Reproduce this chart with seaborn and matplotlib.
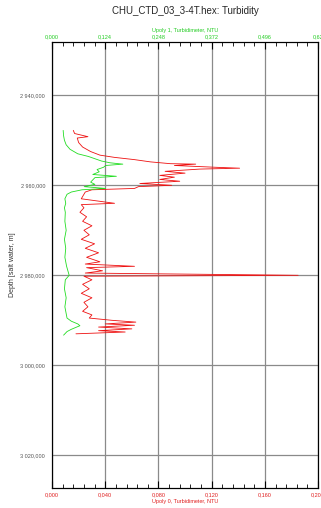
import numpy as np
import pandas as pd
import seaborn as sns
import matplotlib
matplotlib.use("Agg")
import matplotlib.pyplot as plt
from matplotlib.ticker import FixedLocator, MultipleLocator, FuncFormatter

# Upoly 0 (red, bottom axis)
red_depth = [2947.8, 2948.5, 2949.2, 2949.5, 2950.5, 2951.5, 2952.5, 2953.3, 2953.8,
             2954.3, 2954.8, 2955.2, 2955.3, 2955.6, 2956.0, 2956.2, 2956.4, 2956.9,
             2957.3, 2957.8, 2958.2, 2958.7, 2959.1, 2959.6, 2960.0, 2960.3, 2960.7,
             2961.0, 2961.5, 2962.0, 2963.0, 2964.0, 2964.3, 2965.0, 2966.0, 2967.0,
             2968.0, 2969.0, 2970.0, 2971.0, 2972.0, 2973.0, 2974.0, 2975.0, 2976.0,
             2977.0, 2977.5, 2978.0, 2978.3, 2979.0, 2979.5, 2980.0, 2980.2, 2981.0,
             2982.0, 2983.0, 2984.0, 2985.0, 2986.0, 2987.0, 2988.0, 2988.8, 2989.5,
             2990.0, 2990.4, 2990.8, 2991.1, 2991.5, 2991.9, 2992.3, 2992.6, 2993.0]
red_val = [0.016, 0.017, 0.027, 0.019, 0.020, 0.023, 0.029, 0.036, 0.047,
           0.062, 0.074, 0.089, 0.108, 0.092, 0.123, 0.141, 0.111, 0.085,
           0.100, 0.081, 0.092, 0.081, 0.096, 0.066, 0.090, 0.065, 0.062,
           0.030, 0.025, 0.024, 0.022, 0.047, 0.022, 0.024, 0.021, 0.026,
           0.023, 0.030, 0.024, 0.028, 0.022, 0.032, 0.025, 0.035, 0.026,
           0.036, 0.025, 0.062, 0.026, 0.038, 0.025, 0.185, 0.024, 0.030,
           0.023, 0.028, 0.022, 0.030, 0.024, 0.027, 0.023, 0.030, 0.028,
           0.045, 0.063, 0.040, 0.062, 0.035, 0.060, 0.035, 0.055, 0.018]

# Upoly 1 (green, top axis)
green_depth = [2947.8, 2949.0, 2950.0, 2951.0, 2952.0, 2953.0, 2953.6, 2954.1, 2954.6,
               2955.0, 2955.3, 2955.6, 2956.0, 2956.5, 2957.0, 2957.6, 2958.0, 2958.3,
               2958.8, 2959.3, 2959.8, 2960.3, 2960.7, 2961.0, 2961.5, 2962.0, 2963.0,
               2964.0, 2965.0, 2966.0, 2968.0, 2970.0, 2972.0, 2974.0, 2976.0, 2978.0,
               2980.0, 2981.0, 2983.0, 2985.0, 2987.0, 2989.5, 2990.2, 2990.8, 2991.2,
               2991.6, 2992.0, 2992.5, 2993.0, 2993.3]
green_val = [0.026, 0.027, 0.029, 0.033, 0.042, 0.060, 0.085, 0.100, 0.115,
             0.135, 0.165, 0.125, 0.120, 0.105, 0.110, 0.095, 0.150, 0.100,
             0.095, 0.090, 0.100, 0.075, 0.125, 0.070, 0.045, 0.035, 0.030,
             0.032, 0.029, 0.031, 0.030, 0.033, 0.029, 0.032, 0.030, 0.034,
             0.040, 0.031, 0.029, 0.033, 0.030, 0.035, 0.045, 0.060, 0.065,
             0.055, 0.045, 0.035, 0.030, 0.027]

depth_ticks = [2940, 2960, 2980, 3000, 3020]
red_ticks = [0.000, 0.040, 0.080, 0.120, 0.160, 0.200]
green_ticks = [0.000, 0.124, 0.248, 0.372, 0.496, 0.620]

red_df = pd.DataFrame({"val": red_val, "depth": red_depth})
green_df = pd.DataFrame({"val": green_val, "depth": green_depth})

sns.set_style("white")
plt.rcParams["font.family"] = ["Liberation Sans", "DejaVu Sans"]

fig = plt.figure(figsize=(3.21, 5.08), dpi=100)
ax = fig.add_axes([0.162, 0.039, 0.829, 0.878])
ax2 = ax.twiny()

sns.lineplot(data=red_df, x="val", y="depth", sort=False, estimator=None,
             color="#ee1111", lw=0.6, ax=ax)
sns.lineplot(data=green_df, x="val", y="depth", sort=False, estimator=None,
             color="#22dd22", lw=0.6, ax=ax2)

ax.set_xlim(0, 0.2)
ax2.set_xlim(0, 0.62)
ax.set_ylim(3027.3, 2928.2)

ax.xaxis.set_major_locator(FixedLocator(red_ticks))
ax.xaxis.set_minor_locator(MultipleLocator(0.008))
ax2.xaxis.set_major_locator(FixedLocator(green_ticks))
ax2.xaxis.set_minor_locator(MultipleLocator(0.0248))
ax.yaxis.set_major_locator(FixedLocator(depth_ticks))
ax.yaxis.set_minor_locator(MultipleLocator(4))

fmt = FuncFormatter(lambda v, p: f"{v:.3f}".replace(".", ","))
ax.xaxis.set_major_formatter(fmt)
ax2.xaxis.set_major_formatter(FuncFormatter(
    lambda v, p: "0,62" if abs(v - 0.62) < 1e-6 else f"{v:.3f}".replace(".", ",")))
ax.yaxis.set_major_formatter(FuncFormatter(
    lambda v, p: f"{int(v) // 1000} {int(v) % 1000:03d},000"))

ax.grid(True, which="major", color="#8a8a8a", lw=0.9)
ax.set_axisbelow(True)

ax.tick_params(axis="x", which="both", direction="in", colors="#e02020",
               labelsize=4, pad=3)
ax.tick_params(axis="x", which="major", length=5, color="black")
ax.tick_params(axis="x", which="minor", length=3, color="black")
ax2.tick_params(axis="x", which="both", direction="in", colors="#22cc22",
                labelsize=4, pad=2)
ax2.tick_params(axis="x", which="major", length=5, color="black")
ax2.tick_params(axis="x", which="minor", length=3, color="black")
ax.tick_params(axis="y", which="both", direction="out", labelsize=4,
               labelcolor="#555555", color="black", pad=1)
ax.tick_params(axis="y", which="major", length=4)
ax.tick_params(axis="y", which="minor", length=2)
ax2.tick_params(axis="y", which="both", length=0)

ax.set_xlabel("Upoly 0, Turbidimeter, NTU", color="#e02020", fontsize=4, labelpad=1)
ax2.set_xlabel("Upoly 1, Turbidimeter, NTU", color="#22cc22", fontsize=4, labelpad=2)
ax.set_title("CHU_CTD_03_3-4T.hex: Turbidity", fontsize=7, pad=20)

ax.set_ylabel("Depth [salt water, m]", fontsize=5, color="#333333", labelpad=3)

for a in (ax, ax2):
    for s in a.spines.values():
        s.set_color("black")
        s.set_linewidth(0.8)

fig.savefig("out.png", dpi=100)
